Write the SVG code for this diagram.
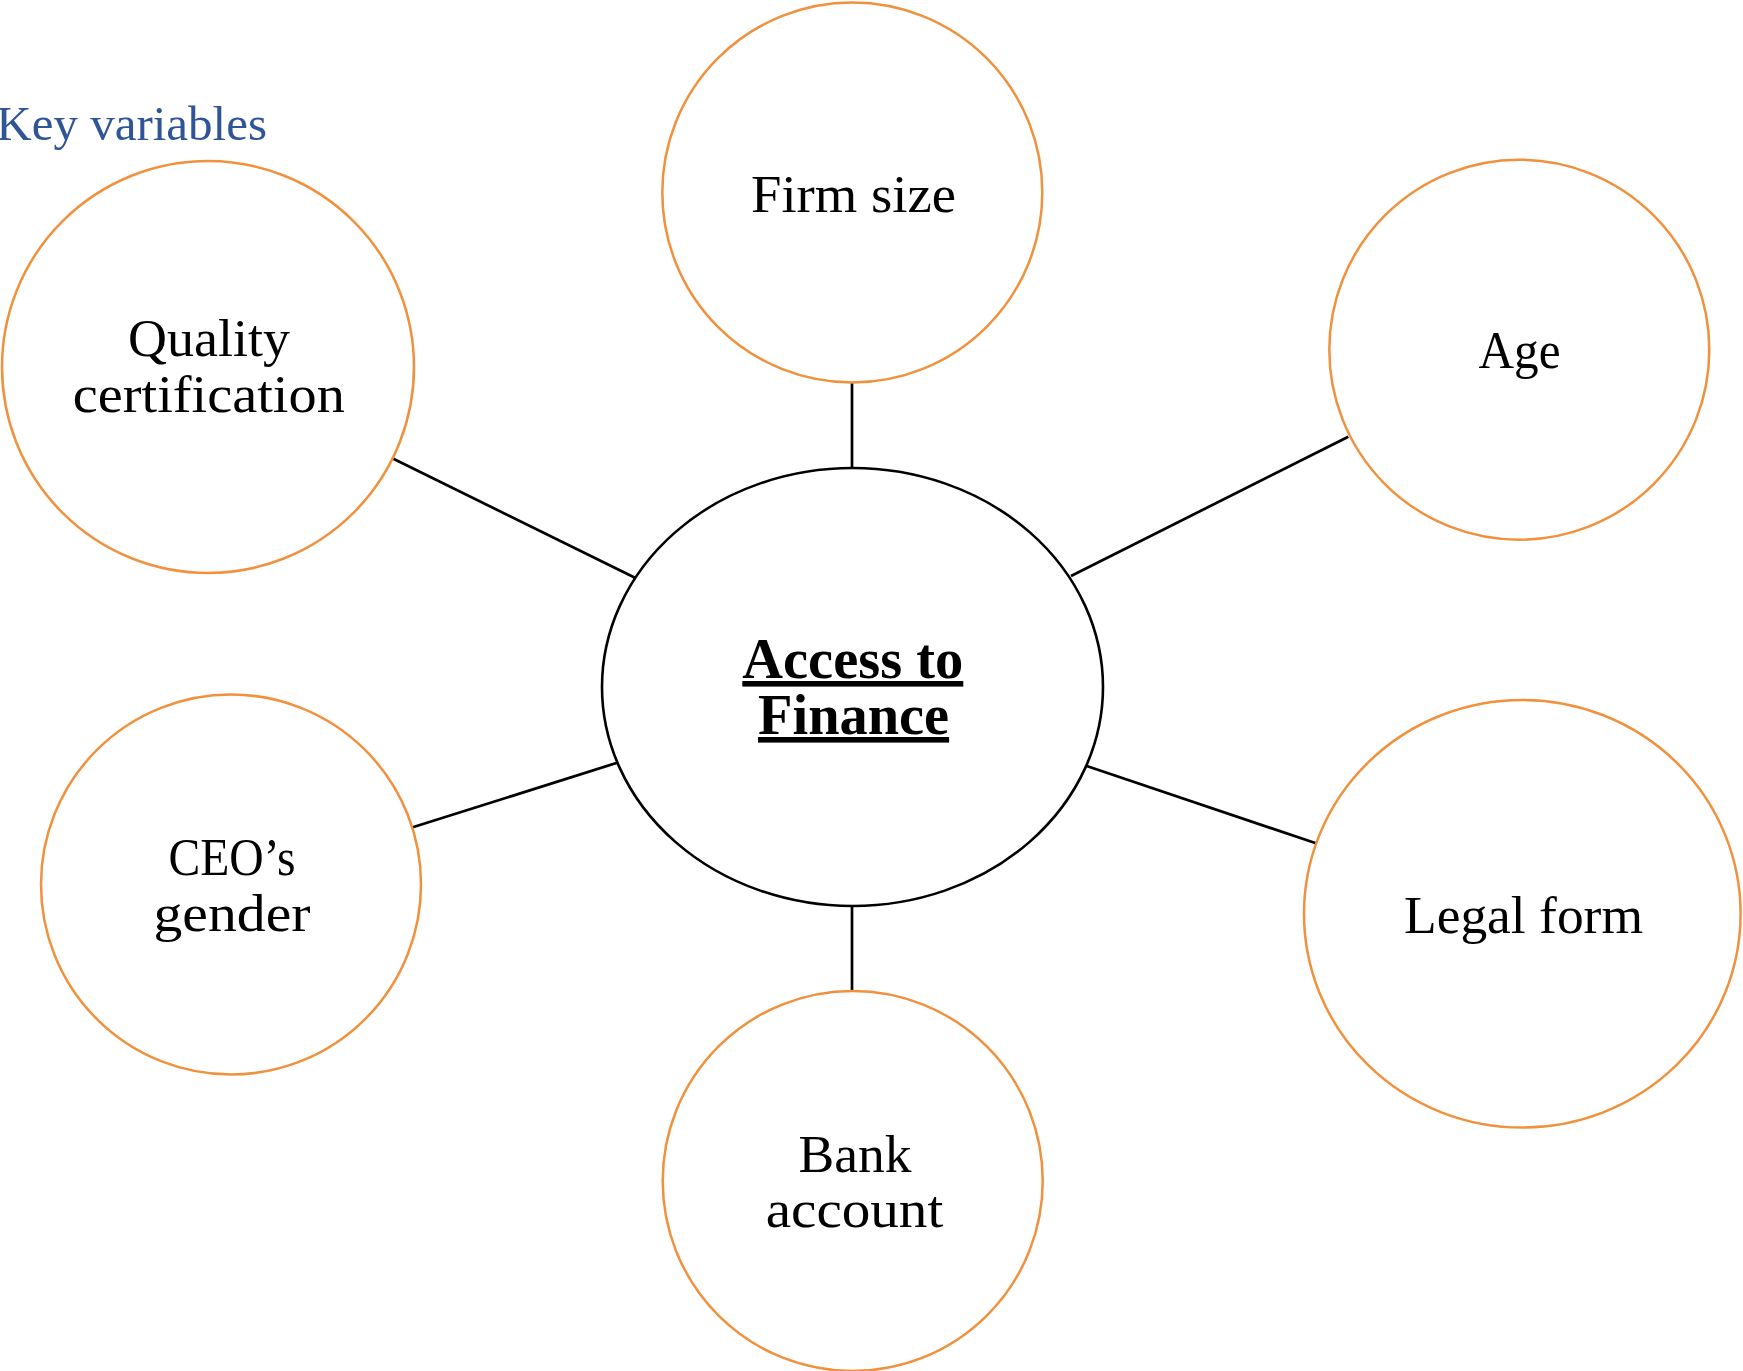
<svg xmlns="http://www.w3.org/2000/svg" width="1743" height="1371" viewBox="0 0 1743 1371">
  <style>
    .bg { fill: #ffffff; }
    .var { fill: #ffffff; stroke: #F0913E; stroke-width: 2.5; }
    .core { fill: #ffffff; stroke: #000000; stroke-width: 2.6; }
    .link { stroke: #000000; stroke-width: 2.7; fill: none; }
    .lbl { font-family: "Liberation Serif", "Times New Roman", serif; font-size: 53px; fill: #000000; text-anchor: middle; }
    .core-lbl { font-family: "Liberation Serif", "Times New Roman", serif; font-size: 56px; font-weight: bold; fill: #000000; text-anchor: middle; text-decoration: underline; }
    .title { font-family: "Liberation Serif", "Times New Roman", serif; font-size: 49px; fill: #2F5597; text-anchor: end; }
  </style>

  <rect class="bg" x="0" y="0" width="1743" height="1371"/>

  <text class="title" x="267" y="140">Key variables</text>

  <!-- spokes from the central ellipse to each variable -->
  <g id="connectors">
    <line class="link" x1="852" y1="382.5" x2="852" y2="468"/>
    <line class="link" x1="852" y1="906" x2="852" y2="991"/>
    <line class="link" x1="392.3" y1="458.3" x2="635" y2="577.7"/>
    <line class="link" x1="412.7" y1="827.3" x2="617.3" y2="762.7"/>
    <line class="link" x1="1071" y1="576" x2="1348.3" y2="436.7"/>
    <line class="link" x1="1086.7" y1="766" x2="1316" y2="843.3"/>
  </g>

  <g id="access-to-finance">
    <ellipse class="core" cx="852.5" cy="687" rx="250.5" ry="219"/>
    <text class="core-lbl" x="852.8" y="678" textLength="221" lengthAdjust="spacingAndGlyphs">Access to</text>
    <text class="core-lbl" x="853.6" y="734" textLength="191" lengthAdjust="spacingAndGlyphs">Finance</text>
  </g>

  <g id="firm-size">
    <circle class="var" cx="852.3" cy="192.5" r="190"/>
    <text class="lbl" x="853.5" y="212" textLength="205" lengthAdjust="spacingAndGlyphs">Firm size</text>
  </g>

  <g id="quality-certification">
    <circle class="var" cx="208" cy="367" r="206"/>
    <text class="lbl" x="209" y="356" textLength="162" lengthAdjust="spacingAndGlyphs">Quality</text>
    <text class="lbl" x="208.8" y="412.3" textLength="272" lengthAdjust="spacingAndGlyphs">certification</text>
  </g>

  <g id="age">
    <circle class="var" cx="1519.3" cy="349.7" r="190"/>
    <text class="lbl" x="1519.5" y="368.3" textLength="82" lengthAdjust="spacingAndGlyphs">Age</text>
  </g>

  <g id="legal-form">
    <ellipse class="var" cx="1522.3" cy="913.8" rx="218.3" ry="213.8"/>
    <text class="lbl" x="1523.5" y="933.3" textLength="239" lengthAdjust="spacingAndGlyphs">Legal form</text>
  </g>

  <g id="ceo-gender">
    <circle class="var" cx="231" cy="884.5" r="190"/>
    <text class="lbl" x="232" y="875" textLength="127" lengthAdjust="spacingAndGlyphs">CEO’s</text>
    <text class="lbl" x="232" y="931" textLength="157" lengthAdjust="spacingAndGlyphs">gender</text>
  </g>

  <g id="bank-account">
    <circle class="var" cx="852.7" cy="1181" r="190"/>
    <text class="lbl" x="855" y="1171.7" textLength="113" lengthAdjust="spacingAndGlyphs">Bank</text>
    <text class="lbl" x="854.5" y="1226.7" textLength="177.6" lengthAdjust="spacingAndGlyphs">account</text>
  </g>
</svg>
